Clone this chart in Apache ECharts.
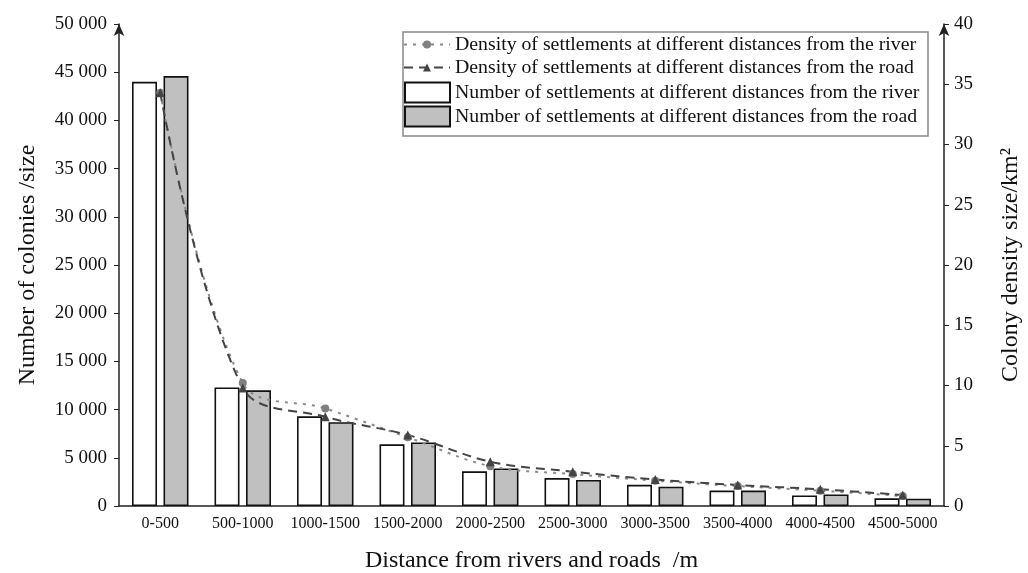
<!DOCTYPE html>
<html><head><meta charset="utf-8">
<script src="https://cdn.jsdelivr.net/npm/echarts@6/dist/echarts.min.js"></script>
<style>html,body{margin:0;padding:0;background:#fff}#c{width:1028px;height:573px}</style>
</head><body><div id="c"></div>
<script>
const categories = ['0-500','500-1000','1000-1500','1500-2000','2000-2500','2500-3000','3000-3500','3500-4000','4000-4500','4500-5000'];
const riverCount = [44000, 12300, 9300, 6400, 3600, 2900, 2200, 1600, 1100, 800];
const roadCount  = [44600, 12000, 8700, 6600, 3900, 2700, 2000, 1600, 1200, 750];
const riverDensity = [34.3, 10.2, 8.1, 5.7, 3.3, 2.65, 2.1, 1.65, 1.27, 0.83];
const roadDensity  = [34.3, 9.8, 7.4, 5.9, 3.68, 2.85, 2.2, 1.74, 1.39, 0.91];
const leftTicks = [0, 5000, 10000, 15000, 20000, 25000, 30000, 35000, 40000, 45000, 50000];
const rightTicks = [0, 5, 10, 15, 20, 25, 30, 35, 40];

const NAME_RIVER_D = 'Density of settlements at different distances from the river';
const NAME_ROAD_D = 'Density of settlements at different distances from the road';
const NAME_RIVER_N = 'Number of settlements at different distances from the river';
const NAME_ROAD_N = 'Number of settlements at different distances from the road';

const F = '"Liberation Serif","Times New Roman",serif';
const chart = echarts.init(document.getElementById('c'), null, {renderer:'canvas'});
const fmt = v => { const s = String(v); return s.length > 3 ? s.slice(0, s.length-3) + ' ' + s.slice(-3) : s; };
const legText = {fontFamily: F, fontSize: 19.8, color: '#111', lineHeight: 23};
chart.setOption({
  animation: false,
  backgroundColor: '#fff',
  textStyle: {fontFamily: F},
  grid: {left: 119, right: 84, top: 24, bottom: 67, containLabel: false, outerBoundsMode: 'none'},
  graphic: [{type: 'rect', shape: {x: 403, y: 32, width: 525, height: 104}, style: {fill: 'none', stroke: '#888', lineWidth: 1.5}, z: 10}],
  legend: [{
    left: 403, top: 33, orient: 'vertical', padding: 0,
    itemGap: 0, itemWidth: 46, itemHeight: 10,
    textStyle: legText,
    data: [NAME_RIVER_D, NAME_ROAD_D]
  }, {
    left: 404, top: 81, orient: 'vertical', padding: 0,
    itemGap: 1, itemWidth: 45, itemHeight: 20,
    textStyle: legText,
    data: [{name: NAME_RIVER_N, icon: 'rect'}, {name: NAME_ROAD_N, icon: 'rect'}]
  }],
  xAxis: {
    type: 'category', data: categories,
    name: 'Distance from rivers and roads  /m', nameLocation: 'middle', nameGap: 43,
    nameTextStyle: {fontFamily: F, fontSize: 24, color: '#111'},
    axisLine: {lineStyle: {color: '#222', width: 1.5}},
    axisTick: {alignWithLabel: true, length: 6, lineStyle: {color: '#222'}},
    axisLabel: {interval: 0, fontFamily: F, fontSize: 16, color: '#111', margin: 10}
  },
  yAxis: [{
    type: 'value', min: 0, max: 50000, interval: 5000,
    name: 'Number of colonies /size', nameLocation: 'middle', nameRotate: 90, nameGap: 79,
    nameTextStyle: {fontFamily: F, fontSize: 24, color: '#111'},
    axisLine: {show: true, symbol: ['none', 'arrow'], symbolSize: [8, 12], lineStyle: {color: '#222', width: 1.5}},
    axisTick: {show: true, length: 5, lineStyle: {color: '#222'}},
    splitLine: {show: false},
    axisLabel: {fontFamily: F, fontSize: 19, color: '#111', margin: 12, formatter: v => fmt(v)}
  }, {
    type: 'value', min: 0, max: 40, interval: 5, position: 'right',
    name: 'Colony density size/km²', nameLocation: 'middle', nameRotate: 90, nameGap: 55,
    nameTextStyle: {fontFamily: F, fontSize: 24, color: '#111'},
    axisLine: {show: true, symbol: ['none', 'arrow'], symbolSize: [8, 12], lineStyle: {color: '#222', width: 1.5}},
    axisTick: {show: true, length: 5, lineStyle: {color: '#222'}},
    splitLine: {show: false},
    axisLabel: {fontFamily: F, fontSize: 19, color: '#111', margin: 10}
  }],
  series: [{
    name: NAME_RIVER_N,
    type: 'bar', data: riverCount, barWidth: 25, barGap: '26%',
    itemStyle: {color: '#fff', borderColor: '#111', borderWidth: 1.6}
  }, {
    name: NAME_ROAD_N,
    type: 'bar', data: roadCount, barWidth: 25,
    itemStyle: {color: '#c0c0c0', borderColor: '#111', borderWidth: 1.6}
  }, {
    name: NAME_RIVER_D,
    type: 'line', yAxisIndex: 1, data: riverDensity, smooth: 0.35,
    symbol: 'circle', symbolSize: 8,
    itemStyle: {color: '#808080'},
    lineStyle: {color: '#8a8a8a', width: 2, type: [3, 6]}
  }, {
    name: NAME_ROAD_D,
    type: 'line', yAxisIndex: 1, data: roadDensity, smooth: 0.35,
    symbol: 'triangle', symbolSize: 9,
    itemStyle: {color: '#444'},
    lineStyle: {color: '#444', width: 2, type: [9, 6]}
  }]
});
</script></body></html>
